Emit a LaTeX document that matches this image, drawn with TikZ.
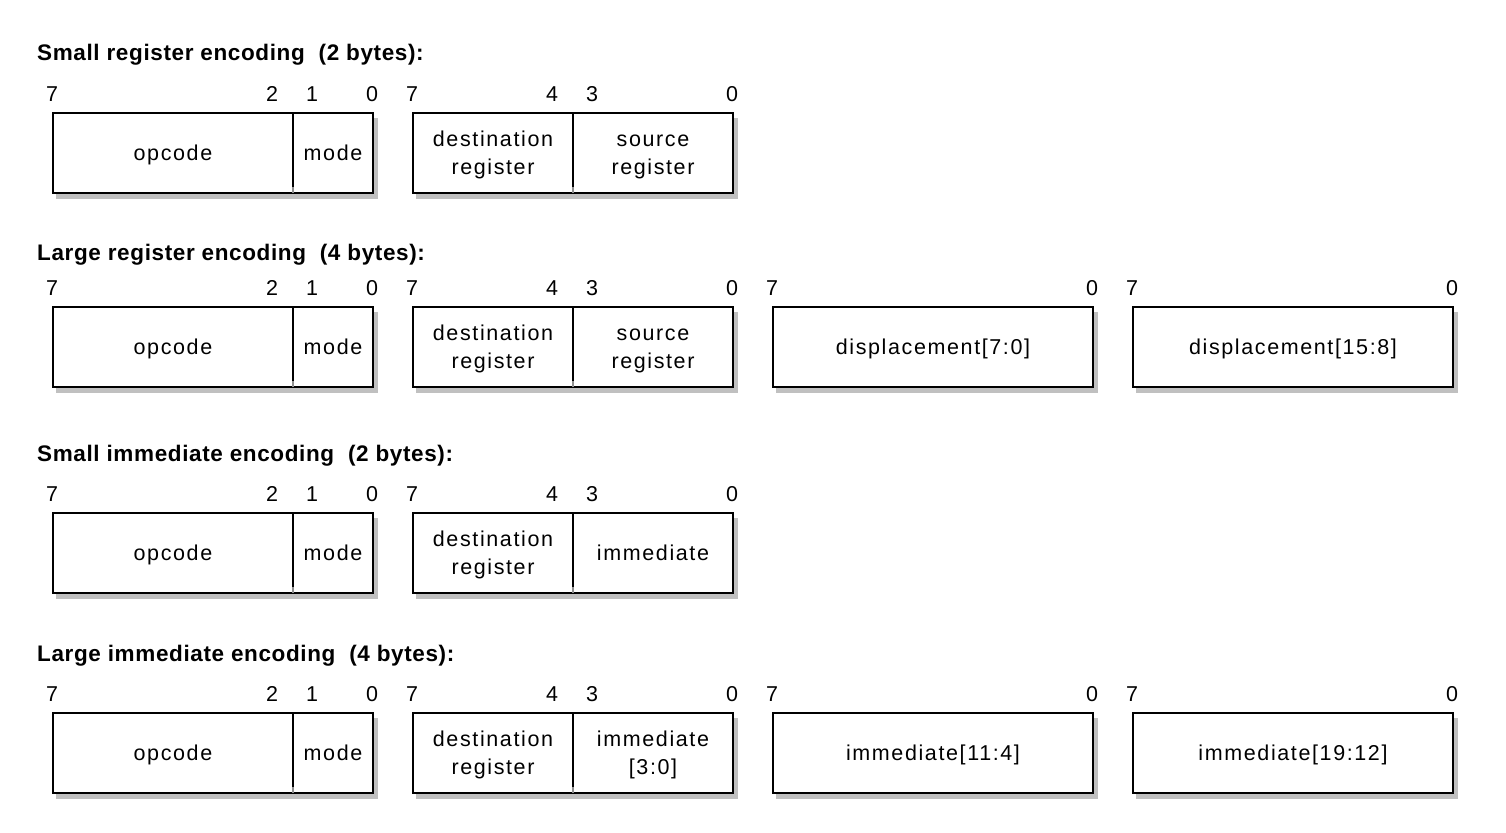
\documentclass[tikz,border=0pt]{standalone}
\usepackage{fontspec}
\setmainfont{Liberation Sans}
\newfontfamily\boxfont{Liberation Sans}[LetterSpace=7.5]
\newfontfamily\titlefont{Liberation Sans}[LetterSpace=2.8]
\definecolor{shade}{HTML}{C0C0C0}
\definecolor{tick}{HTML}{909090}
% struts: one-line fields and two-line fields
\newcommand{\strA}{\rule[-5pt]{0pt}{25pt}}
\newcommand{\strB}{\rule[-5.1pt]{0pt}{25.6pt}}
\tikzset{
  field/.style={draw, line width=2pt, fill=white, minimum height=80pt, inner sep=0pt,
    outer sep=0pt, anchor=north west, align=center,
    font=\boxfont\fontsize{21.5}{28}\selectfont},
  bitnum/.style={inner sep=0pt, font=\fontsize{21.5}{26}\selectfont},
  title/.style={inner sep=0pt, anchor=base west, font=\titlefont\fontsize{22.5}{26}\selectfont\bfseries},
  shadowbox/.style={fill=shade, draw=none},
  divtick/.style={draw=tick, line width=1.5pt}
}
\newcommand{\bytebox}[2]{% x, ytop
  \fill[shadowbox] (#1+3,#2+5) rectangle (#1+325,#2+86);
}
\newcommand{\bitrow}[2]{% name prefix, y
  \foreach \x/\t [count=\i] in {52/7,272/2,312/1,372/0,412/7,552/4,592/3,732/0}
    \node[bitnum] (#1n\i) at (\x,#2) {\t};
}
\newcommand{\bitrowlong}[2]{%
  \foreach \x/\t [count=\i] in {772/7,1092/0,1132/7,1452/0}
    \node[bitnum] (#1m\i) at (\x,#2) {\t};
}
\begin{document}
\begin{tikzpicture}[x=1pt,y=-1pt]
\useasboundingbox (0,0) rectangle (1506,832);
\fill[white] (0,0) rectangle (1506,832);

% ---------- Row 1 ----------
\node[title] (t1) at (37,60.5) {Small register encoding\ \ (2 bytes):};
\bitrow{a}{94}
\bytebox{53}{113}\bytebox{413}{113}
\node[field, minimum width=240pt] (aop) at (53,113) {\strA opcode};
\node[field, minimum width=80pt] (amode) at (293,113) {\strA mode};
\node[field, minimum width=160pt] (adst) at (413,113) {\strB destination\\\strB register};
\node[field, minimum width=160pt] (asrc) at (573,113) {\strB source\\\strB register};
\draw[divtick] (aop.south east) -- ++(0,-6);
\draw[divtick] (adst.south east) -- ++(0,-6);

% ---------- Row 2 ----------
\node[title] (t2) at (37,260.5) {Large register encoding\ \ (4 bytes):};
\bitrow{b}{288}\bitrowlong{b}{288}
\bytebox{53}{307}\bytebox{413}{307}\bytebox{773}{307}\bytebox{1133}{307}
\node[field, minimum width=240pt] (bop) at (53,307) {\strA opcode};
\node[field, minimum width=80pt] (bmode) at (293,307) {\strA mode};
\node[field, minimum width=160pt] (bdst) at (413,307) {\strB destination\\\strB register};
\node[field, minimum width=160pt] (bsrc) at (573,307) {\strB source\\\strB register};
\node[field, minimum width=320pt] (bd1) at (773,307) {\strA displacement[7:0]};
\node[field, minimum width=320pt] (bd2) at (1133,307) {\strA displacement[15:8]};
\draw[divtick] (bop.south east) -- ++(0,-6);
\draw[divtick] (bdst.south east) -- ++(0,-6);

% ---------- Row 3 ----------
\node[title] (t3) at (37,461.5) {Small immediate encoding\ \ (2 bytes):};
\bitrow{c}{494}
\bytebox{53}{513}\bytebox{413}{513}
\node[field, minimum width=240pt] (cop) at (53,513) {\strA opcode};
\node[field, minimum width=80pt] (cmode) at (293,513) {\strA mode};
\node[field, minimum width=160pt] (cdst) at (413,513) {\strB destination\\\strB register};
\node[field, minimum width=160pt] (cimm) at (573,513) {\strA immediate};
\draw[divtick] (cop.south east) -- ++(0,-6);
\draw[divtick] (cdst.south east) -- ++(0,-6);

% ---------- Row 4 ----------
\node[title] (t4) at (37,661.5) {Large immediate encoding\ \ (4 bytes):};
\bitrow{d}{694}\bitrowlong{d}{694}
\bytebox{53}{713}\bytebox{413}{713}\bytebox{773}{713}\bytebox{1133}{713}
\node[field, minimum width=240pt] (dop) at (53,713) {\strA opcode};
\node[field, minimum width=80pt] (dmode) at (293,713) {\strA mode};
\node[field, minimum width=160pt] (ddst) at (413,713) {\strB destination\\\strB register};
\node[field, minimum width=160pt] (dimm) at (573,713) {\strB immediate\\\strB{}[3:0]};
\node[field, minimum width=320pt] (di1) at (773,713) {\strA immediate[11:4]};
\node[field, minimum width=320pt] (di2) at (1133,713) {\strA immediate[19:12]};
\draw[divtick] (dop.south east) -- ++(0,-6);
\draw[divtick] (ddst.south east) -- ++(0,-6);
\end{tikzpicture}
\end{document}
